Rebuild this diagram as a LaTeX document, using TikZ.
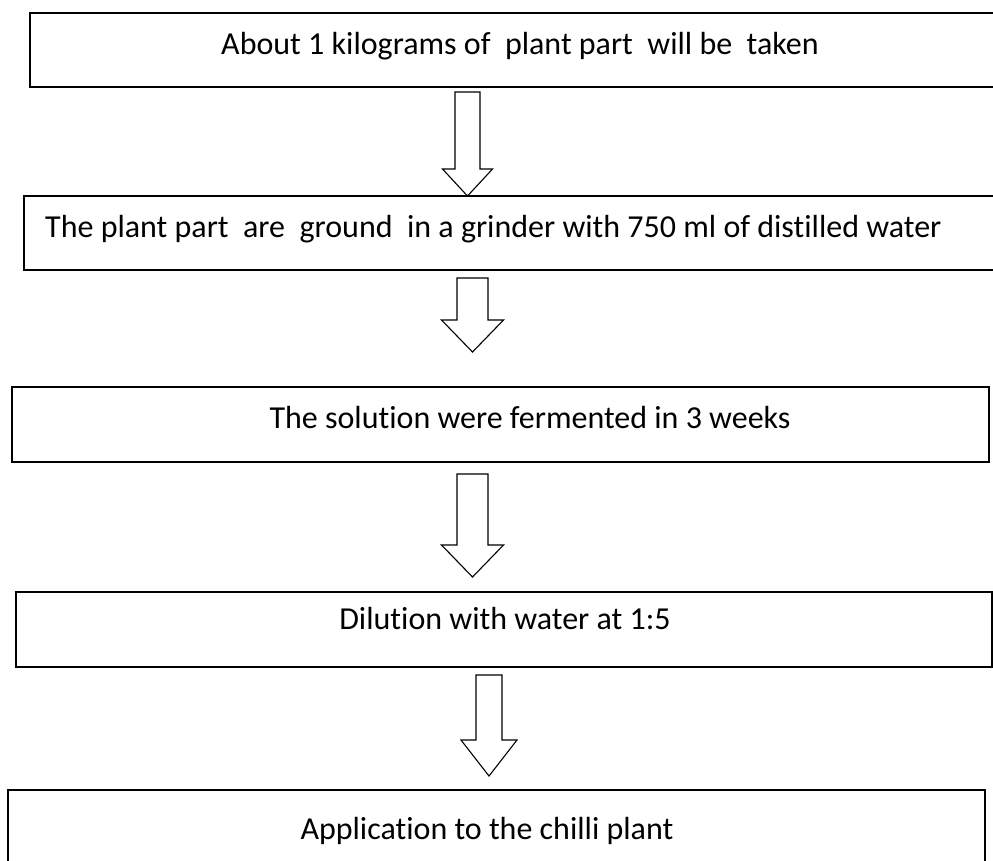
\documentclass[tikz,border=0pt]{standalone}
\usepackage{fontspec}
\setmainfont[Ligatures=NoCommon]{Carlito}
\newcommand\hollowarrow[7]{% name, cx, ytop, shaft half, head half, yhead, ytip
  \coordinate (#1s) at (#2,#3);
  \coordinate (#1t) at (#2,#7);
  \draw[arr] (#2-#4,#3) -- (#2+#4,#3) -- (#2+#4,#6) -- (#2+#5,#6) -- (#1t) -- (#2-#5,#6) -- (#2-#4,#6) -- cycle;}
\begin{document}
\begin{tikzpicture}[x=1pt,y=-1pt,
  box/.style={draw, line width=1.4pt, inner sep=0pt, outer sep=0pt, anchor=north west},
  lbl/.style={font=\fontsize{32}{38}\selectfont, inner sep=0pt},
  arr/.style={draw, line width=1.1pt, fill=white, line join=miter}]
\useasboundingbox (0,0) rectangle (993,860);
\clip (0,0) rectangle (993,860);
\node[box, minimum width=990pt, minimum height=74pt] (b1) at (30,13) {};
\node[box, minimum width=990pt, minimum height=74pt] (b2) at (24,196) {};
\node[box, minimum width=977pt, minimum height=75pt] (b3) at (12,387) {};
\node[box, minimum width=976pt, minimum height=75pt] (b4) at (16,592) {};
\node[box, minimum width=977pt, minimum height=100pt] (b5) at (8,790) {};
\node[lbl, anchor=base] (t1) at (520,54) {About 1 kilograms of\ \ plant part\ \ will be\ \ taken};
\node[lbl, anchor=base west] (t2) at (45,237) {The plant part\ \ are\ \ ground\ \ in a grinder with 750 ml of distilled water};
\node[lbl, anchor=base] (t3) at (530,428) {The solution were fermented in 3 weeks};
\node[lbl, anchor=base] (t4) at (505,629) {Dilution with water at 1:5};
\node[lbl, anchor=base] (t5) at (487,839) {Application to the chilli plant};
\hollowarrow{a1}{467.5}{92}{12.5}{25}{169}{196}
\hollowarrow{a2}{472.5}{278}{15.5}{31}{320}{352}
\hollowarrow{a3}{472.5}{474}{15.5}{31}{545}{577}
\hollowarrow{a4}{489}{675}{13}{28}{740}{776}
\end{tikzpicture}
\end{document}
